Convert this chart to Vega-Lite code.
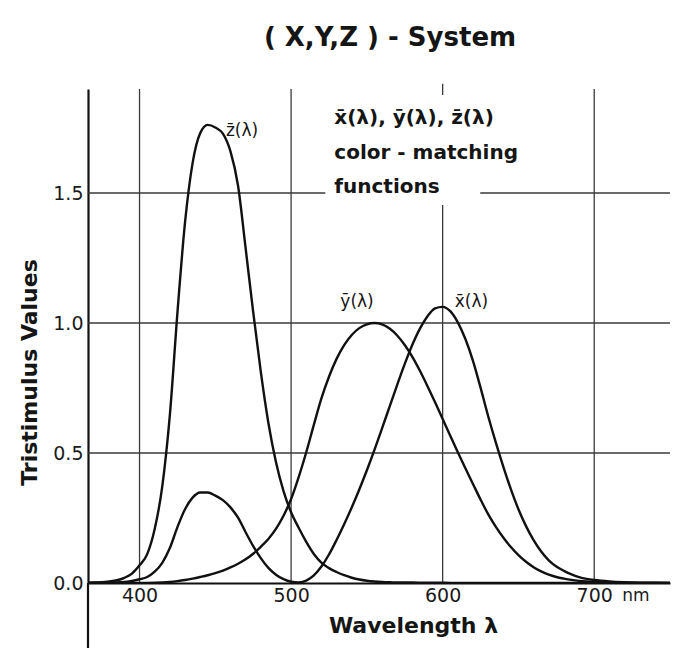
{
  "$schema": "https://vega.github.io/schema/vega-lite/v6.json",
  "width": 582,
  "height": 494,
  "autosize": {"type": "none"},
  "padding": {"left": 88, "top": 89, "right": 3, "bottom": 66},
  "background": "white",
  "title": {"text": "( X,Y,Z ) - System", "font": "DejaVu Sans", "fontSize": 26, "fontWeight": "bold", "color": "#151515", "anchor": "middle", "dx": 11, "offset": 32},
  "config": {"view": {"stroke": null}},
  "datasets": {
    "cmf": [
      {"w": 365, "x": 0.000232, "y": 0.000007, "z": 0.001086},
      {"w": 370, "x": 0.000415, "y": 0.000012, "z": 0.001946},
      {"w": 375, "x": 0.000742, "y": 0.000022, "z": 0.003486},
      {"w": 380, "x": 0.001368, "y": 0.000039, "z": 0.00645},
      {"w": 385, "x": 0.002236, "y": 0.000064, "z": 0.01055},
      {"w": 390, "x": 0.004243, "y": 0.00012, "z": 0.02005},
      {"w": 395, "x": 0.00765, "y": 0.000217, "z": 0.03621},
      {"w": 400, "x": 0.01431, "y": 0.000396, "z": 0.06785},
      {"w": 405, "x": 0.02319, "y": 0.00064, "z": 0.1102},
      {"w": 410, "x": 0.04351, "y": 0.00121, "z": 0.2074},
      {"w": 415, "x": 0.07763, "y": 0.00218, "z": 0.3713},
      {"w": 420, "x": 0.13438, "y": 0.004, "z": 0.6456},
      {"w": 425, "x": 0.21477, "y": 0.0073, "z": 1.03905},
      {"w": 430, "x": 0.2839, "y": 0.0116, "z": 1.3856},
      {"w": 435, "x": 0.3285, "y": 0.01684, "z": 1.615},
      {"w": 440, "x": 0.34828, "y": 0.023, "z": 1.73},
      {"w": 445, "x": 0.34806, "y": 0.0298, "z": 1.762},
      {"w": 450, "x": 0.3362, "y": 0.038, "z": 1.752},
      {"w": 455, "x": 0.3187, "y": 0.048, "z": 1.728},
      {"w": 460, "x": 0.2908, "y": 0.06, "z": 1.66},
      {"w": 465, "x": 0.2511, "y": 0.0739, "z": 1.5281},
      {"w": 470, "x": 0.19536, "y": 0.09098, "z": 1.28764},
      {"w": 475, "x": 0.1421, "y": 0.1126, "z": 1.0419},
      {"w": 480, "x": 0.09564, "y": 0.13902, "z": 0.81295},
      {"w": 485, "x": 0.05795, "y": 0.1693, "z": 0.6162},
      {"w": 490, "x": 0.03201, "y": 0.20802, "z": 0.46518},
      {"w": 495, "x": 0.0147, "y": 0.2586, "z": 0.3533},
      {"w": 500, "x": 0.0049, "y": 0.323, "z": 0.272},
      {"w": 505, "x": 0.0024, "y": 0.4073, "z": 0.2123},
      {"w": 510, "x": 0.0093, "y": 0.503, "z": 0.1582},
      {"w": 515, "x": 0.0291, "y": 0.6082, "z": 0.1117},
      {"w": 520, "x": 0.06327, "y": 0.71, "z": 0.07825},
      {"w": 525, "x": 0.1096, "y": 0.7932, "z": 0.05725},
      {"w": 530, "x": 0.1655, "y": 0.862, "z": 0.04216},
      {"w": 535, "x": 0.22575, "y": 0.91485, "z": 0.02984},
      {"w": 540, "x": 0.2904, "y": 0.954, "z": 0.0203},
      {"w": 545, "x": 0.3597, "y": 0.9803, "z": 0.0134},
      {"w": 550, "x": 0.43345, "y": 0.99495, "z": 0.00875},
      {"w": 555, "x": 0.51205, "y": 1.0, "z": 0.00575},
      {"w": 560, "x": 0.5945, "y": 0.995, "z": 0.0039},
      {"w": 565, "x": 0.6784, "y": 0.9786, "z": 0.00275},
      {"w": 570, "x": 0.7621, "y": 0.952, "z": 0.0021},
      {"w": 575, "x": 0.8425, "y": 0.9154, "z": 0.0018},
      {"w": 580, "x": 0.9163, "y": 0.87, "z": 0.00165},
      {"w": 585, "x": 0.9786, "y": 0.8163, "z": 0.0014},
      {"w": 590, "x": 1.0263, "y": 0.757, "z": 0.0011},
      {"w": 595, "x": 1.0567, "y": 0.6949, "z": 0.001},
      {"w": 600, "x": 1.0622, "y": 0.631, "z": 0.0008},
      {"w": 605, "x": 1.0456, "y": 0.5668, "z": 0.0006},
      {"w": 610, "x": 1.0026, "y": 0.503, "z": 0.00034},
      {"w": 615, "x": 0.9384, "y": 0.4412, "z": 0.00024},
      {"w": 620, "x": 0.85445, "y": 0.381, "z": 0.00019},
      {"w": 625, "x": 0.7514, "y": 0.321, "z": 0.0001},
      {"w": 630, "x": 0.6424, "y": 0.265, "z": 0.00005},
      {"w": 635, "x": 0.5419, "y": 0.217, "z": 0.00003},
      {"w": 640, "x": 0.4479, "y": 0.175, "z": 0.00002},
      {"w": 645, "x": 0.3608, "y": 0.1382, "z": 0.00001},
      {"w": 650, "x": 0.2835, "y": 0.107, "z": 0},
      {"w": 655, "x": 0.2187, "y": 0.0816, "z": 0},
      {"w": 660, "x": 0.1649, "y": 0.061, "z": 0},
      {"w": 665, "x": 0.1212, "y": 0.04458, "z": 0},
      {"w": 670, "x": 0.0874, "y": 0.032, "z": 0},
      {"w": 675, "x": 0.0636, "y": 0.0232, "z": 0},
      {"w": 680, "x": 0.04677, "y": 0.017, "z": 0},
      {"w": 685, "x": 0.0329, "y": 0.01192, "z": 0},
      {"w": 690, "x": 0.0227, "y": 0.00821, "z": 0},
      {"w": 695, "x": 0.01584, "y": 0.005723, "z": 0},
      {"w": 700, "x": 0.011359, "y": 0.004102, "z": 0},
      {"w": 710, "x": 0.00579, "y": 0.002091, "z": 0},
      {"w": 720, "x": 0.002899, "y": 0.001047, "z": 0},
      {"w": 730, "x": 0.00144, "y": 0.00052, "z": 0},
      {"w": 740, "x": 0.00069, "y": 0.000249, "z": 0},
      {"w": 750, "x": 0.000332, "y": 0.00012, "z": 0}
    ]
  },
  "encoding": {
    "x": {"field": "w", "type": "quantitative", "scale": {"domain": [366, 750], "nice": false, "zero": false},
      "axis": {"values": [400, 500, 600, 700], "title": "Wavelength λ", "grid": false, "ticks": false, "domainColor": "#111", "domainWidth": 2.2, "labelFont": "DejaVu Sans", "labelFontSize": 19, "labelColor": "#1a1a1a", "labelPadding": 3, "titleFont": "DejaVu Sans", "titleFontSize": 22, "titleFontWeight": "bold", "titleColor": "#151515", "titlePadding": 10, "titleAnchor": "middle", "titleX": 325}},
    "y": {"field": "v", "type": "quantitative", "scale": {"domain": [0, 1.9], "nice": false, "zero": false},
      "axis": {"values": [0, 0.5, 1, 1.5], "format": ".1f", "title": "Tristimulus Values", "grid": false, "ticks": false, "domainColor": "#111", "domainWidth": 2.2, "labelFont": "DejaVu Sans", "labelFontSize": 19, "labelColor": "#1a1a1a", "labelPadding": 5, "titleFont": "DejaVu Sans", "titleFontSize": 22, "titleFontWeight": "bold", "titleColor": "#151515", "titlePadding": 11, "titleY": 283}}
  },
  "layer": [
    {
      "data": {"values": [
        {"w": 400, "v": 0, "v2": 1.9},
        {"w": 500, "v": 0, "v2": 1.9},
        {"w": 600, "v": 0, "v2": 1.454},
        {"w": 600, "v": 1.877, "v2": 1.92},
        {"w": 700, "v": 0, "v2": 1.9}
      ]},
      "mark": {"type": "rule", "color": "#3a3a3a", "strokeWidth": 1.3},
      "encoding": {"y2": {"field": "v2"}}
    },
    {
      "data": {"values": [
        {"w": 366, "w2": 750, "v": 0.5},
        {"w": 366, "w2": 750, "v": 1.0},
        {"w": 366, "w2": 522.6, "v": 1.5},
        {"w": 624.8, "w2": 750, "v": 1.5}
      ]},
      "mark": {"type": "rule", "color": "#3a3a3a", "strokeWidth": 1.3},
      "encoding": {"x2": {"field": "w2"}}
    },
    {
      "data": {"values": [{"w": 366, "v": 0, "v2": -0.25}]},
      "mark": {"type": "rule", "color": "#111", "strokeWidth": 2.2},
      "encoding": {"y2": {"field": "v2"}}
    },
    {
      "data": {"name": "cmf"},
      "transform": [{"fold": ["x", "y", "z"], "as": ["fn", "v"]}],
      "mark": {"type": "line", "interpolate": "monotone", "strokeWidth": 2.4, "clip": true},
      "encoding": {
        "detail": {"field": "fn", "type": "nominal"},
        "color": {"value": "#111"}
      }
    },
    {
      "data": {"values": [
        {"w": 457, "v": 1.74, "t": "z̄(λ)"},
        {"w": 532.5, "v": 1.08, "t": "ȳ(λ)"},
        {"w": 608, "v": 1.08, "t": "x̄(λ)"}
      ]},
      "mark": {"type": "text", "align": "left", "baseline": "middle", "font": "DejaVu Sans", "fontSize": 17, "color": "#151515"},
      "encoding": {"text": {"field": "t"}}
    },
    {
      "data": {"values": [
        {"w": 528.5, "v": 1.79, "t": "x̄(λ), ȳ(λ), z̄(λ)"},
        {"w": 528.5, "v": 1.655, "t": "color - matching"},
        {"w": 528.5, "v": 1.525, "t": "functions"}
      ]},
      "mark": {"type": "text", "align": "left", "baseline": "middle", "font": "DejaVu Sans", "fontSize": 20, "fontWeight": "bold", "color": "#151515"},
      "encoding": {"text": {"field": "t"}}
    },
    {
      "data": {"values": [{"w": 700, "v": 0, "t": "nm"}]},
      "mark": {"type": "text", "align": "left", "baseline": "top", "dx": 28, "dy": 5, "font": "DejaVu Sans", "fontSize": 17, "color": "#1a1a1a"},
      "encoding": {"text": {"field": "t"}}
    }
  ]
}
